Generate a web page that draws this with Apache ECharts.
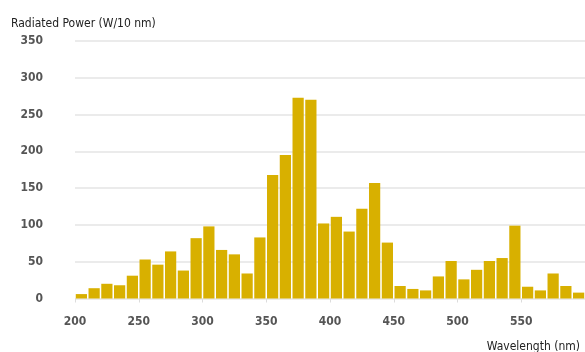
<!DOCTYPE html>
<html>
<head>
<meta charset="utf-8">
<script src="https://cdn.jsdelivr.net/npm/echarts@6/dist/echarts.min.js"></script>
<style>
  html, body { margin: 0; padding: 0; background: #fff; }
  #chart { width: 585px; height: 352px; }
</style>
</head>
<body>
<div id="chart"></div>
<script>
// wavelength bins (nm), 10 nm each
var categories = ['200', '210', '220', '230', '240', '250', '260', '270', '280', '290',
  '300', '310', '320', '330', '340', '350', '360', '370', '380', '390',
  '400', '410', '420', '430', '440', '450', '460', '470', '480', '490',
  '500', '510', '520', '530', '540', '550', '560', '570', '580', '590']

// radiated power per 10 nm (W)
var power = [6, 14, 20, 18, 31, 53, 46, 64, 38, 82,
  98, 66, 60, 34, 83, 168, 195, 273, 270, 102,
  111, 91, 122, 157, 76, 17, 13, 11, 30, 51,
  26, 39, 51, 55, 99, 16, 11, 34, 17, 8]

var yTicks = { min: 0, max: 350, step: 50 }
var xTicks = { min: 200, max: 600, step: 50 }

var condensed = "'DejaVu Sans Condensed', 'DejaVu Sans', sans-serif"

var chart = echarts.init(document.getElementById('chart'))

var option = {
  animation: false,
  title: [
    {
      text: 'Radiated Power (W/10 nm)',
      left: 6,
      top: 13,
      textStyle: { fontFamily: condensed, fontSize: 12, fontWeight: 'normal', color: '#222' }
    },
    {
      text: 'Wavelength (nm)',
      right: 0,
      top: 336,
      textStyle: { fontFamily: condensed, fontSize: 12, fontWeight: 'normal', color: '#222' }
    }
  ],
  grid: {
    left: 75,
    right: 0,
    top: 41,
    bottom: 53.5,
    containLabel: false
  },
  xAxis: [
    {
      type: 'category',
      data: categories,
      boundaryGap: true,
      axisLine: { show: false },
      axisTick: { show: false },
      axisLabel: { show: false }
    },
    {
      type: 'value',
      position: 'bottom',
      min: xTicks.min,
      max: xTicks.max,
      interval: xTicks.step,
      axisLine: { show: false },
      axisTick: { show: true, length: 4, lineStyle: { color: '#dcdcdc' } },
      splitLine: { show: false },
      axisLabel: {
        showMaxLabel: false,
        margin: 17,
        fontFamily: condensed,
        fontWeight: 'bold',
        fontSize: 12,
        color: '#555'
      }
    }
  ],
  yAxis: {
    type: 'value',
    min: yTicks.min,
    max: yTicks.max,
    interval: yTicks.step,
    axisLine: { show: false },
    axisTick: { show: false },
    axisLabel: {
      margin: 32,
      fontFamily: condensed,
      fontWeight: 'bold',
      fontSize: 12,
      color: '#555'
    },
    splitLine: {
      lineStyle: { color: '#e4e4e4', width: 1.5 }
    }
  },
  series: [
    {
      type: 'bar',
      xAxisIndex: 0,
      data: power,
      barCategoryGap: '12%',
      itemStyle: { color: '#D8B000' }
    }
  ]
}

chart.setOption(option)
</script>
</body>
</html>
